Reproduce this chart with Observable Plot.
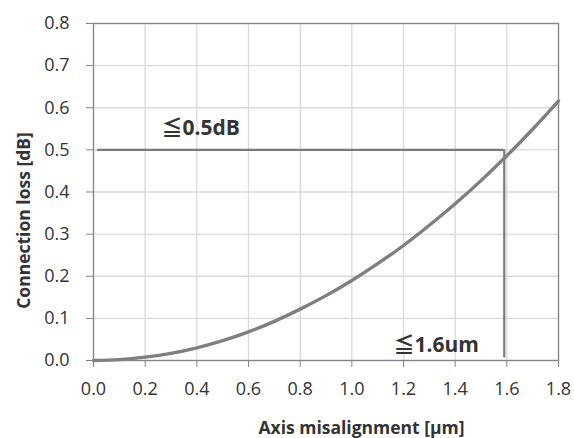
<!DOCTYPE html>
<html>
<head>
<meta charset="utf-8">
<script src="https://cdn.jsdelivr.net/npm/d3@7"></script>
<script src="https://cdn.jsdelivr.net/npm/@observablehq/plot@0.6"></script>
<style>
  html, body { margin: 0; padding: 0; background: #fff; }
  svg { display: block; }
</style>
</head>
<body>
<div id="chart"></div>
<script>
// Curve
const misalignment = [0, 0.1, 0.2, 0.3, 0.4, 0.5, 0.6, 0.7, 0.8, 0.9, 1.0, 1.1, 1.2, 1.3, 1.4, 1.5, 1.6, 1.7, 1.8];
const loss = [0, 0.002, 0.008, 0.017, 0.030, 0.047, 0.068, 0.093, 0.122, 0.154, 0.190, 0.230, 0.273, 0.321, 0.372, 0.427, 0.486, 0.549, 0.616];

// Threshold lines
const lossLimit = 0.5;
const misLimit = 1.59;
const hLineStart = 0.015;

const xTicks = [0, 0.2, 0.4, 0.6, 0.8, 1.0, 1.2, 1.4, 1.6, 1.8];
const yTicks = [0, 0.1, 0.2, 0.3, 0.4, 0.5, 0.6, 0.7, 0.8];

const xTitle = "Axis misalignment [µm]";
const yTitle = "Connection loss [dB]";
const annotationText = ["≦0.5dB", "≦1.6um"];
const annotationX = [0.263, 1.161];
const annotationY = [0.536, 0.019];

const curve = misalignment.map((m, i) => ({x: m, y: loss[i]}));
const annotations = annotationText.map((t, i) => ({x: annotationX[i], y: annotationY[i], text: t}));

const font = "'Open Sans', 'Noto Sans', sans-serif";
const annFont = "'Open Sans', 'Noto Sans CJK JP', sans-serif";

const chart = Plot.plot({
  width: 574,
  height: 438,
  marginLeft: 93,
  marginRight: 16,
  marginTop: 23,
  marginBottom: 78,
  style: {fontFamily: font, background: "#fff"},
  x: {domain: [0, 1.8]},
  y: {domain: [0, 0.8]},
  marks: [
    Plot.gridX(xTicks, {stroke: "#d9d9d9", strokeOpacity: 1, strokeWidth: 1.3}),
    Plot.gridY(yTicks, {stroke: "#d9d9d9", strokeOpacity: 1, strokeWidth: 1.3}),
    Plot.frame({stroke: "#868686", strokeWidth: 1.3}),
    Plot.axisX({ticks: xTicks, tickFormat: d3.format(".1f"), tickSize: 7, tickPadding: 15, stroke: "#868686", fontSize: 18, fill: "#333", label: null}),
    Plot.axisY({ticks: yTicks, tickFormat: d3.format(".1f"), tickSize: 7, tickPadding: 17, stroke: "#868686", fontSize: 18, fill: "#333", label: null}),
    Plot.ruleY([lossLimit], {x1: hLineStart, x2: misLimit, stroke: "#7a7a7a", strokeWidth: 2.2}),
    Plot.ruleX([misLimit], {y1: 0.006, y2: lossLimit, stroke: "#7a7a7a", strokeWidth: 2.2}),
    Plot.line(curve, {x: "x", y: "y", stroke: "#7f7f7f", strokeWidth: 3.4, curve: "natural"}),
    Plot.text(annotations, {x: "x", y: "y", text: "text", textAnchor: "start", lineAnchor: "bottom", fontSize: 21, fontWeight: "bold", fill: "#333", fontFamily: annFont}),
    Plot.text([xTitle], {frameAnchor: "bottom", textAnchor: "middle", lineAnchor: "bottom", dx: 35.5, dy: 73, fontSize: 17.5, fontWeight: "bold", fill: "#333"}),
    Plot.text([yTitle], {frameAnchor: "left", textAnchor: "middle", lineAnchor: "bottom", rotate: -90, dx: -64, dy: 28.5, fontSize: 17.5, fontWeight: "bold", fill: "#333"})
  ]
});
document.getElementById("chart").appendChild(chart);
</script>
</body>
</html>
